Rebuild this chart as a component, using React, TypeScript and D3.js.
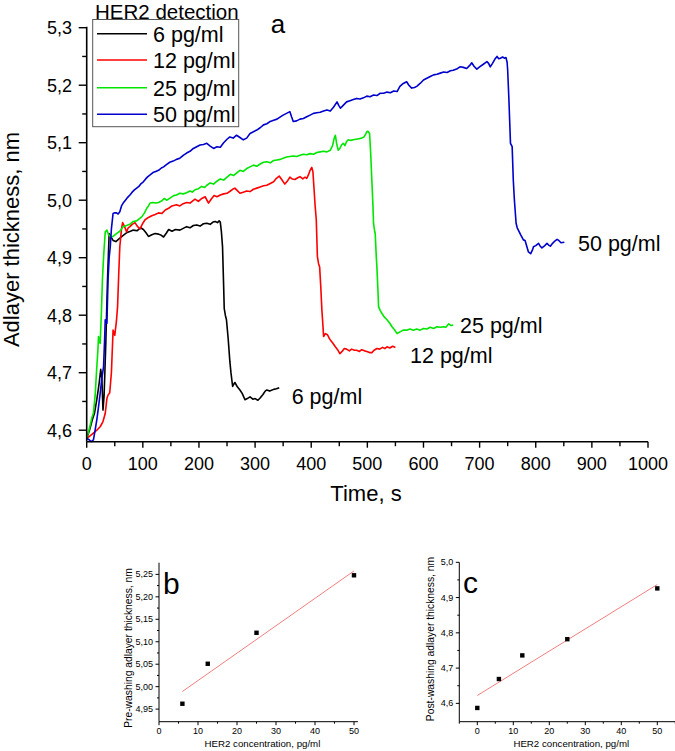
import React from "react";
import * as d3 from "d3";

const FONT = "'Liberation Sans', Arial, Helvetica, sans-serif";

// ---------- Panel a data: [time s, thickness nm] ----------
const black6: [number, number][] = [
  [0,4.586],[5,4.60],[10,4.618],[14,4.63],[18,4.653],[22,4.68],[25,4.706],[27,4.69],[29,4.635],[31,4.66],[34,4.75],[37,4.86],[40,4.942],[44,4.935],[47,4.930],[52,4.928],[58,4.933],[65,4.939],[72,4.944],[78,4.946],[83,4.948],[90,4.947],[96,4.952],[101,4.949],[106,4.943],[110,4.937],[116,4.940],[122,4.942],[128,4.941],[133,4.939],[137,4.936],[142,4.943],[146,4.949],[152,4.946],[158,4.949],[166,4.948],[172,4.951],[178,4.954],[184,4.952],[190,4.956],[196,4.957],[202,4.955],[208,4.959],[214,4.96],[220,4.958],[225,4.962],[229,4.963],[233,4.961],[236,4.964],[238,4.962],[240,4.945],[242,4.919],[244,4.85],[245,4.812],[247,4.80],[249,4.792],[252,4.76],[255,4.72],[257,4.70],[260,4.676],[262,4.68],[264,4.683],[268,4.676],[273,4.670],[277,4.664],[282,4.653],[286,4.655],[291,4.658],[296,4.654],[300,4.655],[305,4.652],[309,4.656],[314,4.662],[318,4.668],[321,4.67],[326,4.668],[333,4.671],[338,4.672],[343,4.674]
];
const red12: [number, number][] = [
  [0,4.586],[6,4.59],[12,4.595],[18,4.60],[24,4.606],[29,4.615],[33,4.629],[36,4.655],[38,4.661],[41,4.665],[44,4.70],[47,4.774],[50,4.765],[53,4.79],[55,4.815],[57,4.87],[59,4.919],[62,4.95],[64,4.961],[67,4.955],[71,4.945],[74,4.952],[77,4.954],[81,4.958],[86,4.961],[90,4.955],[95,4.95],[100,4.96],[104,4.966],[110,4.970],[116,4.973],[122,4.975],[128,4.978],[134,4.977],[140,4.983],[146,4.986],[152,4.99],[160,4.992],[166,4.99],[172,4.994],[178,4.996],[184,4.995],[189,4.999],[193,5.002],[199,4.998],[205,5.003],[211,5.006],[217,4.995],[222,5.002],[227,5.008],[232,5.006],[238,5.009],[244,5.011],[250,5.012],[256,5.016],[260,5.019],[264,5.021],[268,5.017],[273,5.012],[279,5.014],[285,5.016],[291,5.015],[297,5.019],[303,5.021],[309,5.023],[315,5.025],[321,5.026],[327,5.029],[333,5.032],[338,5.038],[343,5.042],[348,5.035],[353,5.028],[358,5.034],[362,5.04],[366,5.037],[371,5.036],[376,5.039],[380,5.041],[385,5.037],[389,5.04],[392,5.038],[395,5.044],[398,5.052],[401,5.057],[403,5.05],[405,5.02],[407,4.99],[409,4.966],[411,4.902],[413,4.89],[415,4.884],[417,4.85],[419,4.809],[421,4.78],[422,4.763],[425,4.768],[429,4.766],[432,4.76],[434,4.757],[438,4.752],[443,4.745],[447,4.74],[451,4.733],[455,4.737],[459,4.742],[463,4.741],[468,4.738],[472,4.741],[477,4.739],[481,4.739],[486,4.737],[490,4.74],[495,4.738],[499,4.737],[504,4.735],[508,4.735],[512,4.739],[517,4.742],[522,4.741],[527,4.744],[531,4.742],[535,4.745],[540,4.743],[545,4.746],[550,4.744]
];
const green25: [number, number][] = [
  [0,4.586],[4,4.60],[7,4.612],[9,4.621],[12,4.63],[15,4.66],[18,4.71],[20,4.74],[21,4.763],[23,4.755],[24,4.751],[26,4.80],[28,4.861],[30,4.90],[33,4.945],[36,4.948],[39,4.94],[42,4.937],[47,4.937],[53,4.942],[59,4.946],[65,4.954],[71,4.956],[77,4.958],[83,4.963],[89,4.964],[94,4.968],[98,4.971],[103,4.978],[107,4.986],[110,4.99],[113,4.995],[118,4.996],[123,4.995],[128,4.996],[134,4.999],[138,5.003],[143,5.0],[149,5.004],[155,5.008],[160,5.009],[166,5.012],[172,5.011],[178,5.013],[184,5.016],[188,5.014],[193,5.018],[199,5.02],[205,5.024],[210,5.022],[214,5.026],[220,5.03],[226,5.028],[232,5.033],[238,5.037],[244,5.035],[250,5.04],[256,5.045],[262,5.043],[268,5.048],[273,5.052],[279,5.05],[285,5.055],[291,5.058],[297,5.061],[303,5.059],[309,5.063],[315,5.066],[321,5.067],[327,5.065],[333,5.069],[339,5.07],[345,5.071],[350,5.073],[356,5.075],[362,5.076],[368,5.077],[374,5.076],[380,5.078],[386,5.08],[392,5.079],[398,5.081],[404,5.08],[410,5.083],[416,5.084],[422,5.085],[428,5.084],[434,5.087],[438,5.095],[441,5.108],[443,5.113],[445,5.10],[448,5.087],[451,5.09],[454,5.096],[457,5.099],[460,5.095],[463,5.102],[466,5.105],[470,5.104],[475,5.105],[480,5.106],[485,5.107],[490,5.108],[494,5.11],[497,5.115],[499,5.119],[501,5.12],[504,5.116],[506,5.08],[508,5.035],[510,4.99],[511,4.96],[513,4.946],[514,4.942],[516,4.90],[517,4.884],[519,4.84],[520,4.815],[523,4.808],[526,4.803],[530,4.797],[535,4.792],[540,4.786],[544,4.78],[548,4.775],[553,4.768],[558,4.771],[564,4.774],[570,4.774],[576,4.776],[582,4.774],[588,4.776],[594,4.774],[600,4.777],[606,4.776],[612,4.779],[618,4.777],[624,4.78],[630,4.779],[636,4.78],[640,4.779],[645,4.785],[649,4.782],[653,4.783]
];
const blue50: [number, number][] = [
  [0,4.586],[5,4.583],[8,4.58],[12,4.583],[15,4.60],[18,4.618],[21,4.64],[24,4.664],[27,4.69],[30,4.71],[32,4.76],[33,4.792],[35,4.79],[36,4.786],[38,4.861],[40,4.90],[42,4.919],[44,4.95],[47,4.977],[50,4.978],[53,4.978],[56,4.976],[59,4.98],[62,4.99],[65,4.995],[69,5.0],[73,5.005],[77,5.009],[81,5.014],[85,5.018],[89,5.021],[93,5.024],[97,5.029],[101,5.032],[105,5.037],[109,5.041],[113,5.044],[118,5.048],[123,5.05],[128,5.052],[133,5.056],[137,5.058],[142,5.062],[148,5.066],[154,5.068],[160,5.071],[166,5.073],[172,5.078],[178,5.082],[184,5.085],[190,5.09],[196,5.093],[202,5.096],[208,5.097],[214,5.099],[220,5.094],[226,5.09],[232,5.093],[238,5.092],[244,5.1],[250,5.106],[255,5.11],[261,5.108],[267,5.113],[273,5.109],[279,5.105],[285,5.108],[291,5.116],[297,5.119],[303,5.122],[309,5.126],[315,5.131],[321,5.133],[327,5.137],[333,5.139],[339,5.141],[345,5.145],[350,5.148],[356,5.151],[362,5.154],[365,5.145],[368,5.137],[374,5.138],[380,5.141],[386,5.142],[392,5.145],[398,5.148],[404,5.151],[410,5.152],[416,5.153],[422,5.155],[428,5.157],[434,5.155],[440,5.162],[446,5.171],[449,5.165],[452,5.16],[457,5.165],[463,5.171],[469,5.173],[475,5.175],[481,5.177],[487,5.176],[493,5.178],[499,5.181],[505,5.18],[511,5.183],[517,5.182],[523,5.186],[529,5.186],[535,5.188],[541,5.187],[547,5.19],[553,5.189],[558,5.198],[564,5.203],[570,5.206],[574,5.2],[579,5.195],[584,5.196],[588,5.198],[594,5.203],[600,5.209],[606,5.212],[612,5.215],[618,5.218],[624,5.219],[630,5.221],[636,5.223],[642,5.222],[648,5.225],[653,5.226],[659,5.228],[665,5.232],[671,5.231],[677,5.229],[682,5.234],[686,5.239],[690,5.233],[695,5.228],[700,5.232],[706,5.236],[713,5.241],[716,5.238],[719,5.232],[723,5.238],[727,5.245],[731,5.25],[734,5.246],[737,5.247],[741,5.249],[744,5.247],[747,5.248],[749,5.24],[750,5.226],[752,5.18],[755,5.099],[758,5.093],[760,5.035],[762,5.00],[765,4.96],[767,4.952],[769,4.948],[773,4.94],[778,4.931],[781,4.93],[784,4.92],[787,4.91],[791,4.907],[794,4.913],[796,4.919],[800,4.921],[805,4.925],[808,4.92],[811,4.917],[815,4.92],[820,4.925],[823,4.922],[826,4.92],[830,4.925],[834,4.929],[838,4.932],[841,4.93],[845,4.926],[851,4.927]
];

const seriesNames = ["6 pg/ml", "12 pg/ml", "25 pg/ml", "50 pg/ml"];
const seriesColors = ["#000000", "#ff0000", "#00e600", "#0000cc"];
const seriesData = [black6, red12, green25, blue50];

const mainXTicks = [0, 100, 200, 300, 400, 500, 600, 700, 800, 900, 1000];
const mainYTicks = [4.6, 4.7, 4.8, 4.9, 5.0, 5.1, 5.2, 5.3];

// ---------- Panel b ----------
const bConc = [6, 12.5, 25, 50];
const bThick = [4.962, 5.051, 5.12, 5.248];
const bXTicks = [0, 10, 20, 30, 40, 50];
const bYTicks = [4.95, 5.0, 5.05, 5.1, 5.15, 5.2, 5.25];

// ---------- Panel c ----------
const cConc = [0, 6, 12.5, 25, 50];
const cThick = [4.587, 4.669, 4.736, 4.782, 4.926];
const cXTicks = [0, 10, 20, 30, 40, 50];
const cYTicks = [4.6, 4.7, 4.8, 4.9, 5.0];

const comma = (f: string) => (v: number) => d3.format(f)(v).replace(".", ",");

function fit(xs: number[], ys: number[]) {
  const mx = d3.mean(xs)!;
  const my = d3.mean(ys)!;
  let sxy = 0, sxx = 0;
  xs.forEach((x, i) => { sxy += (x - mx) * (ys[i] - my); sxx += (x - mx) * (x - mx); });
  const slope = sxy / sxx;
  return { slope, intercept: my - slope * mx };
}

function mids(t: number[]) {
  const out: number[] = [];
  for (let i = 0; i < t.length - 1; i++) out.push((t[i] + t[i + 1]) / 2);
  return out;
}

function SmallPanel(props: {
  xs: number[]; ys: number[]; xDomain: [number, number]; xRange: [number, number];
  yDomain: [number, number]; yRange: [number, number]; xTicks: number[]; yTicks: number[];
  yFmt: (v: number) => string; letter: string; letterX: number; yLabel: string; yLabelX: number; yLabelY: number;
  xMinor: number[]; yMinor: number[];
}) {
  const x = d3.scaleLinear().domain(props.xDomain).range(props.xRange);
  const y = d3.scaleLinear().domain(props.yDomain).range(props.yRange);
  const [x0, x1] = props.xRange;
  const [yb, yt] = props.yRange;
  const f = fit(props.xs, props.ys);
  const fx0 = d3.min(props.xs)!, fx1 = d3.max(props.xs)!;
  return (
    <g fontFamily={FONT}>
      <line x1={x0} x2={x1} y1={yb} y2={yb} stroke="#000" strokeWidth={1} />
      <line x1={x0} x2={x0} y1={yb} y2={yt} stroke="#000" strokeWidth={1} />
      {props.xTicks.map((t) => (
        <g key={"xt" + t}>
          <line x1={x(t)} x2={x(t)} y1={yb} y2={yb + 3.5} stroke="#000" />
          <text x={x(t)} y={yb + 12} fontSize={9} textAnchor="middle">{t}</text>
        </g>
      ))}
      {props.xMinor.map((t) => (
        <line key={"xm" + t} x1={x(t)} x2={x(t)} y1={yb} y2={yb + 2} stroke="#000" />
      ))}
      {props.yTicks.map((t) => (
        <g key={"yt" + t}>
          <line x1={x0 - 3.5} x2={x0} y1={y(t)} y2={y(t)} stroke="#000" />
          <text x={x0 - 6} y={y(t) + 3} fontSize={9} textAnchor="end">{props.yFmt(t)}</text>
        </g>
      ))}
      {props.yMinor.map((t) => (
        <line key={"ym" + t} x1={x0 - 2} x2={x0} y1={y(t)} y2={y(t)} stroke="#000" />
      ))}
      <line x1={x(fx0)} x2={x(fx1)} y1={y(f.intercept + f.slope * fx0)} y2={y(f.intercept + f.slope * fx1)}
        stroke="#f07070" strokeWidth={0.9} />
      {props.xs.map((c, i) => (
        <rect key={"p" + i} x={x(c) - 2.2} y={y(props.ys[i]) - 2.2} width={4.4} height={4.4} fill="#000" />
      ))}
      <text x={props.letterX} y={yt + 31} fontSize={30}>{props.letter}</text>
      <text transform={`translate(${props.yLabelX},${props.yLabelY}) rotate(-90)`} fontSize={10.3} textAnchor="middle">{props.yLabel}</text>
      <text x={(x0 + x1) / 2 + 4} y={747} fontSize={9.7} textAnchor="middle">HER2 concentration, pg/ml</text>
    </g>
  );
}

export default function App() {
  const x = d3.scaleLinear().domain([0, 1000]).range([86.7, 648]);
  const y = d3.scaleLinear().domain([4.58, 5.3]).range([441.7, 27.7]);
  const line = d3.line<[number, number]>().x((d) => x(d[0])).y((d) => y(d[1]));
  const xMinor = mids(mainXTicks);
  const yMinor = mids(mainYTicks);
  const fmt1 = comma(".1f");
  const labelPos = [
    { x: 291.7, y: 404 },
    { x: 410, y: 362.5 },
    { x: 460, y: 333 },
    { x: 578, y: 251 },
  ];
  const legendY = [33.7, 60, 87.7, 114.3];

  return (
    <svg width={675} height={751} style={{ position: "absolute", left: 0, top: 0, background: "#fff" }}
      fontFamily={FONT}>
      <rect x={0} y={0} width={675} height={751} fill="#fff" />
      {/* curves */}
      {seriesData.map((d, i) => (
        <path key={i} d={line(d) || ""} fill="none" stroke={seriesColors[i]} strokeWidth={1.6} strokeLinejoin="round" />
      ))}
      {/* axes */}
      <line x1={x(0)} x2={x(1000)} y1={y(4.58)} y2={y(4.58)} stroke="#000" strokeWidth={1.6} />
      <line x1={x(0)} x2={x(0)} y1={y(4.58)} y2={y(5.3) - 1} stroke="#000" strokeWidth={1.6} />
      {mainXTicks.map((t) => (
        <g key={"x" + t}>
          <line x1={x(t)} x2={x(t)} y1={y(4.58)} y2={y(4.58) + 6} stroke="#000" strokeWidth={1.4} />
          <text x={x(t)} y={y(4.58) + 28} fontSize={18} textAnchor="middle">{t}</text>
        </g>
      ))}
      {xMinor.map((t) => (
        <line key={"xm" + t} x1={x(t)} x2={x(t)} y1={y(4.58)} y2={y(4.58) + 4.5} stroke="#000" strokeWidth={1.4} />
      ))}
      {mainYTicks.map((t) => (
        <g key={"y" + t}>
          <line x1={x(0) - 8} x2={x(0)} y1={y(t)} y2={y(t)} stroke="#000" strokeWidth={1.4} />
          <text x={72} y={y(t) + 6.5} fontSize={18} textAnchor="end">{fmt1(t)}</text>
        </g>
      ))}
      {yMinor.map((t) => (
        <line key={"ym" + t} x1={x(0) - 4.5} x2={x(0)} y1={y(t)} y2={y(t)} stroke="#000" strokeWidth={1.4} />
      ))}
      <text x={366} y={501} fontSize={22} textAnchor="middle">Time, s</text>
      <text transform={`translate(19,239.5) rotate(-90)`} fontSize={22} textAnchor="middle">Adlayer thickness, nm</text>
      <text x={278} y={33} fontSize={26} textAnchor="middle">a</text>
      {/* legend */}
      <text x={95} y={18.5} fontSize={20.5}>HER2 detection</text>
      <rect x={92.7} y={19.5} width={146} height={107.2} fill="none" stroke="#555" strokeWidth={1} />
      {seriesNames.map((n, i) => (
        <g key={"l" + i}>
          <line x1={97} x2={147} y1={legendY[i]} y2={legendY[i]} stroke={seriesColors[i]} strokeWidth={1.6} />
          <text x={153} y={legendY[i] + 7.8} fontSize={21.5}>{n}</text>
        </g>
      ))}
      {seriesNames.map((n, i) => (
        <text key={"a" + i} x={labelPos[i].x} y={labelPos[i].y} fontSize={21.5}>{n}</text>
      ))}
      {/* panel b */}
      <SmallPanel xs={bConc} ys={bThick} xDomain={[0, 51]} xRange={[159, 357.9]}
        yDomain={[4.922, 5.276]} yRange={[721.7, 562.7]} xTicks={bXTicks} yTicks={bYTicks}
        yFmt={comma(".2f")} letter="b" letterX={163} yLabel="Pre-washing adlayer thickness, nm"
        yLabelX={132} yLabelY={648}
        xMinor={mids(bXTicks)} yMinor={mids(bYTicks)} />
      {/* panel c */}
      <SmallPanel xs={cConc} ys={cThick} xDomain={[-5, 55]} xRange={[459.3, 675.3]}
        yDomain={[4.548, 5.0]} yRange={[721.7, 562.3]} xTicks={cXTicks} yTicks={cYTicks}
        yFmt={comma(".1f")} letter="c" letterX={463} yLabel="Post-washing adlayer thickness, nm"
        yLabelX={433.5} yLabelY={639}
        xMinor={[-5, ...mids(cXTicks), 55]} yMinor={mids(cYTicks)} />
    </svg>
  );
}
